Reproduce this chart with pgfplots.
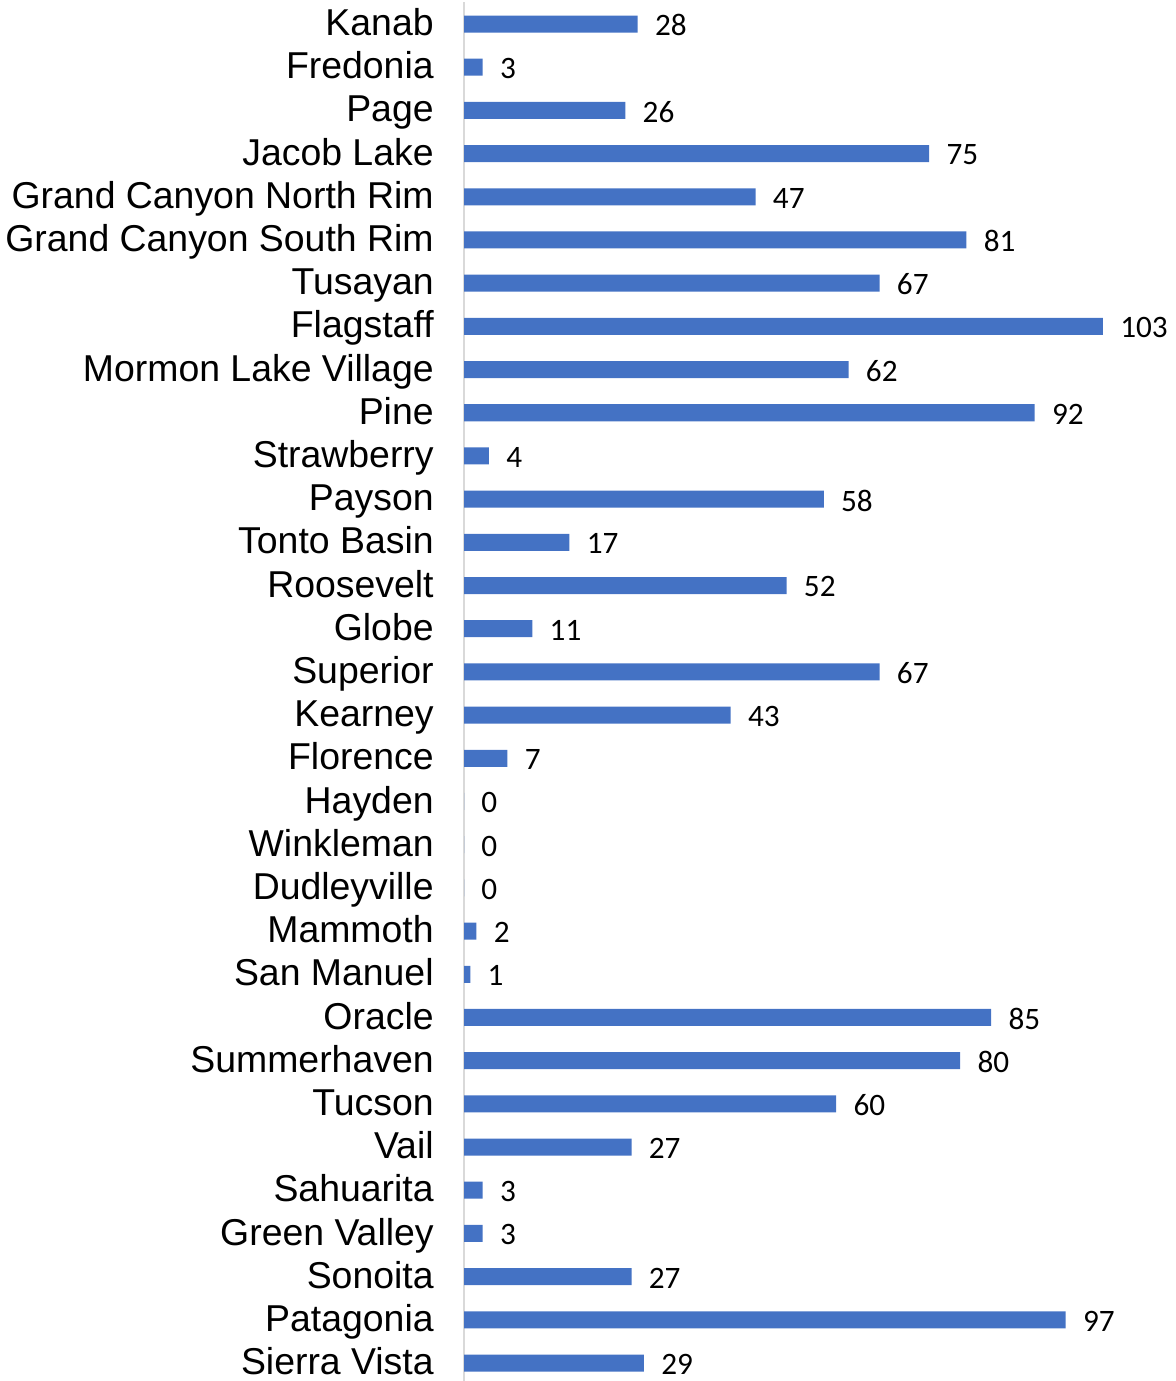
\documentclass[border=0pt]{standalone}
\usepackage{pgfplots}
\pgfplotsset{compat=1.18}
\usepackage{fontspec}
\setmainfont{Liberation Sans}
\newfontfamily\calibri{Carlito}
\definecolor{barblue}{HTML}{4472C4}
\definecolor{axgray}{HTML}{D9D9D9}
\begin{document}
\begin{tikzpicture}
\begin{axis}[
  scale only axis, width=355pt, height=691pt,
  xbar, bar width=8.5pt,
  xmin=0, xmax=114.5,
  ymin=-0.5, ymax=31.5, y dir=reverse,
  ytick={0,...,31},
  yticklabels={Kanab,Fredonia,Page,Jacob Lake,Grand Canyon North Rim,Grand Canyon South Rim,Tusayan,Flagstaff,Mormon Lake Village,Pine,Strawberry,Payson,Tonto Basin,Roosevelt,Globe,Superior,Kearney,Florence,Hayden,Winkleman,Dudleyville,Mammoth,San Manuel,Oracle,Summerhaven,Tucson,Vail,Sahuarita,Green Valley,Sonoita,Patagonia,Sierra Vista},
  axis x line=none,
  axis y line*=left,
  y axis line style={axgray, line width=1pt},
  major tick length=0pt,
  ytick style={draw=none},
  yticklabel style={font=\fontsize{18.7}{20}\selectfont, anchor=base east, inner sep=0pt, xshift=-15pt, yshift=-5.8pt},
  /pgf/number format/assume math mode=true,
  point meta=x,
  nodes near coords,
  nodes near coords style={font=\calibri\fontsize{15.6}{16}\selectfont, anchor=west, inner sep=0pt, xshift=8.5pt, yshift=-0.7pt, text=black},
  clip=false,
]
\addplot[fill=barblue, draw=none] coordinates {
(28,0) (3,1) (26,2) (75,3) (47,4) (81,5) (67,6) (103,7) (62,8) (92,9)
(4,10) (58,11) (17,12) (52,13) (11,14) (67,15) (43,16) (7,17) (0,18) (0,19)
(0,20) (2,21) (1,22) (85,23) (80,24) (60,25) (27,26) (3,27) (3,28) (27,29)
(97,30) (29,31)
};
\end{axis}
\pgfresetboundingbox
\path ([xshift=-232pt,yshift=1.8pt]current axis.south west) rectangle ([xshift=0.5pt,yshift=1.2pt]current axis.north east);
\end{tikzpicture}
\end{document}
